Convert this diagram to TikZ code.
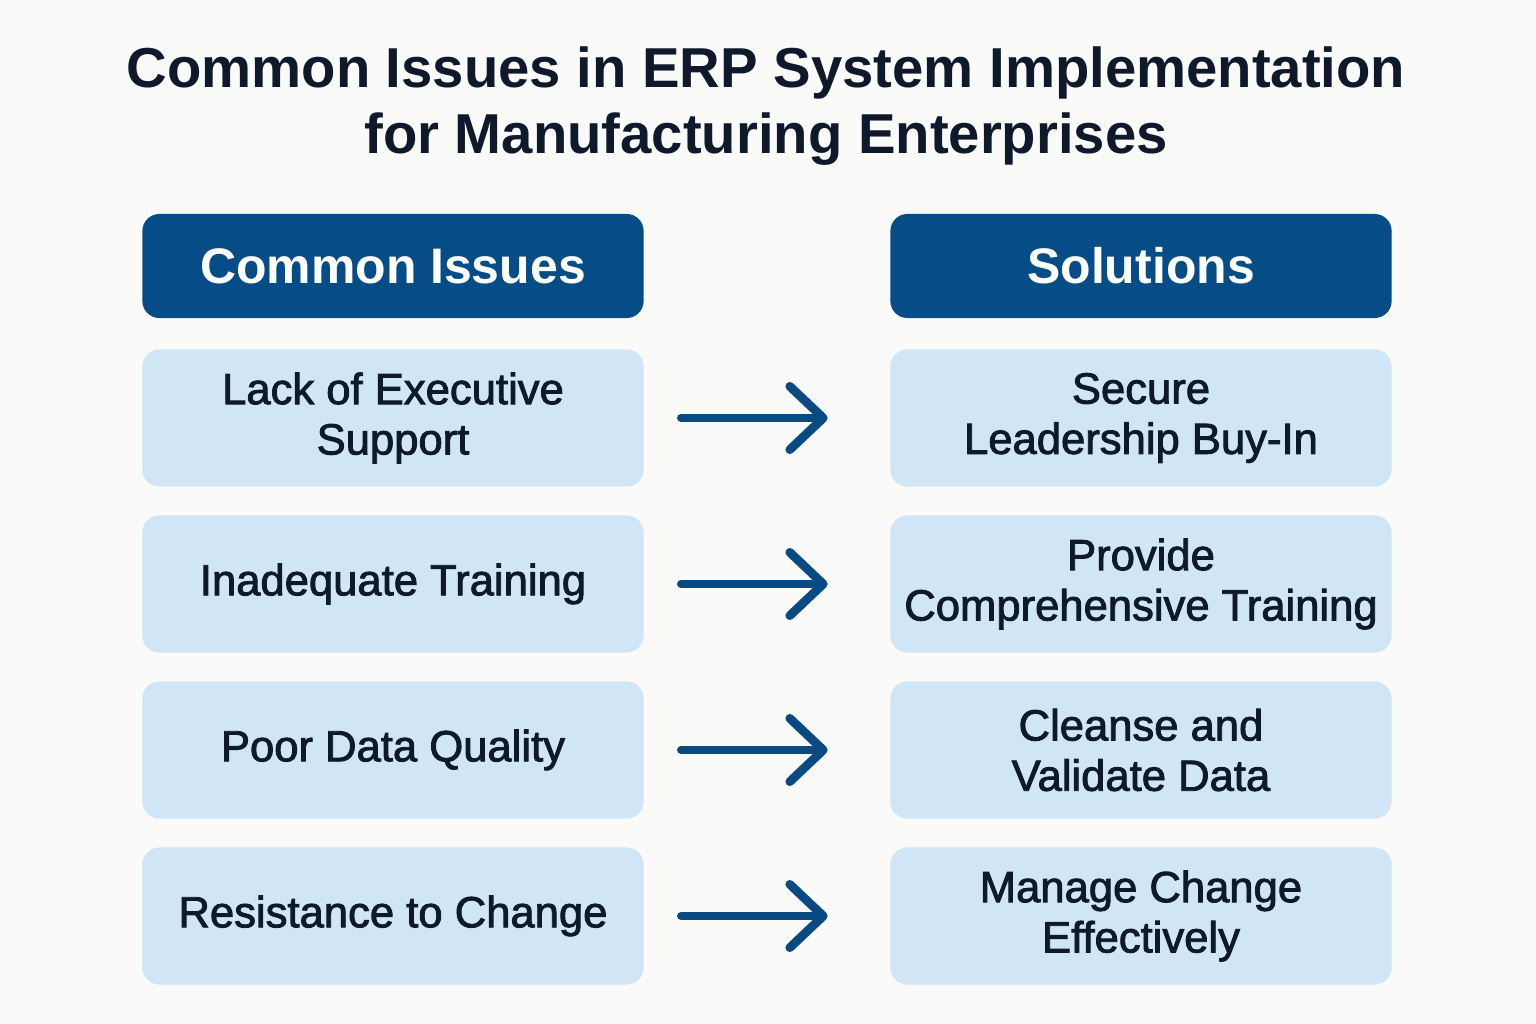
\documentclass[tikz,border=0pt]{standalone}
\usepackage{fontspec}
\setmainfont{Liberation Sans}
\newfontfamily\midfont[FakeBold=2]{Liberation Sans}
\usepackage{xcolor}
\usetikzlibrary{arrows.meta}
\definecolor{hdblue}{HTML}{064C86}
\definecolor{boxblue}{HTML}{D0E6F6}
\definecolor{ink}{HTML}{0E1A2B}
\definecolor{arrblue}{HTML}{0A4A82}
\definecolor{paper}{HTML}{FAFAF8}

\begin{document}
\begin{tikzpicture}[x=0.01cm,y=-0.01cm,
    head/.style={fill=hdblue,rounded corners=0.17cm,minimum width=5.01cm,minimum height=1.04cm,
      text=white,font=\bfseries\fontsize{14.2}{17}\selectfont},
    item/.style={fill=boxblue,rounded corners=0.17cm,minimum width=5.01cm,minimum height=1.37cm,
      text=ink,align=center,font=\midfont\fontsize{12.4}{14.3}\selectfont},
    link/.style={arrblue,line width=2.5pt,line cap=round,
      -{Straight Barb[length=9.5pt,width=18pt,line cap=round,round]},
      shorten <=0.37cm,shorten >=0.62cm}]
  \fill[paper] (0,0) rectangle (1536,1024);
  \useasboundingbox (0,0) rectangle (1536,1024);
  % title
  \node[align=center,text=ink,font=\bfseries\fontsize{16}{19}\selectfont] (title) at (766,106)
    {Common Issues in ERP System Implementation\\for Manufacturing Enterprises};
  % column heads
  \node[head] (hl) at (393,266) {Common Issues};
  \node[head] (hr) at (1141,266) {Solutions};
  % issues
  \node[item] (i1) at (393,418) {Lack of Executive\\Support};
  \node[item] (i2) at (393,584) {Inadequate Training};
  \node[item] (i3) at (393,750) {Poor Data Quality};
  \node[item] (i4) at (393,916) {Resistance to Change};
  % solutions
  \node[item] (s1) at (1141,418) {Secure\\Leadership Buy-In};
  \node[item] (s2) at (1141,584) {Provide\\Comprehensive Training};
  \node[item] (s3) at (1141,750) {Cleanse and\\Validate Data};
  \node[item] (s4) at (1141,916) {Manage Change\\Effectively};
  \foreach \k in {1,...,4}
    \draw[link] (i\k) -- (s\k);
\end{tikzpicture}
\end{document}
